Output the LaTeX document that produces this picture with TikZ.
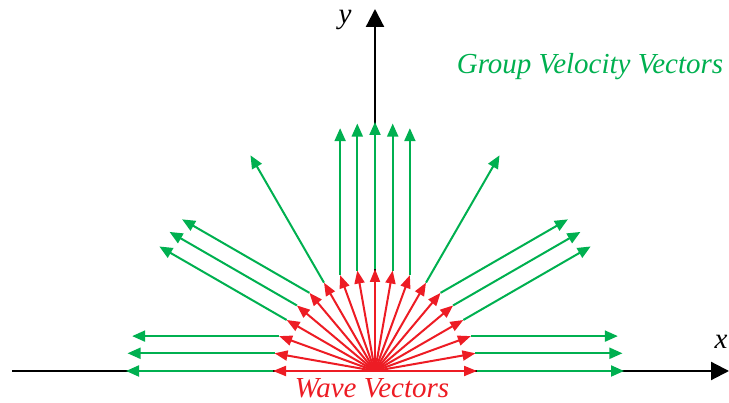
\documentclass[tikz,border=0pt]{standalone}
\usepackage{fontspec}
\newfontfamily\tmsfont{Liberation Serif}
\usetikzlibrary{arrows.meta,calc}
\definecolor{gv}{RGB}{0,176,80}
\definecolor{wv}{RGB}{237,28,36}
\tikzset{
 axis/.style={line width=2.2pt, -{Triangle[length=18pt,width=18pt]}},
 grp/.style={gv, line width=2pt, -{Triangle[length=13pt,width=11pt]}},
 wave/.style={wv, line width=2pt, -{Triangle[length=13pt,width=10pt]}},
 lbl/.style={font=\tmsfont\itshape\fontsize{29}{33}\selectfont, inner sep=0pt}
}
\begin{document}
\begin{tikzpicture}[x=1pt,y=1pt]
\useasboundingbox (0,0) rectangle (729,403);
\coordinate (O) at (375,32);
\coordinate (xs) at (12,32);
\coordinate (xe) at (729,32);
\coordinate (ye) at (375,394);
\draw[axis] (xs) -- (xe);
\draw[axis] (O) -- (ye);
\foreach \a/\d in {0/0,10/0,20/0,30/30,40/30,50/30,60/60,70/90,80/90,90/90,100/90,110/90,120/120,130/150,140/150,150/150,160/180,170/180,180/180}{
  \coordinate (r\a) at ($(O)+(\a:102)$);
  \coordinate (g\a) at ($(r\a)+(\d:147)$);
  \draw[grp] (r\a) -- (g\a);
}
\foreach \a in {0,10,...,180}{ \draw[wave] (O) -- (r\a); }
\node[lbl, text=black] (ylab) at (345,383) {y};
\node[lbl, text=black] (xlab) at (721,61) {x};
\node[lbl, text=gv] (glab) at (590,336) {Group Velocity Vectors};
\node[lbl, text=wv] (wlab) at (372,15) {Wave Vectors};
\end{tikzpicture}
\end{document}
